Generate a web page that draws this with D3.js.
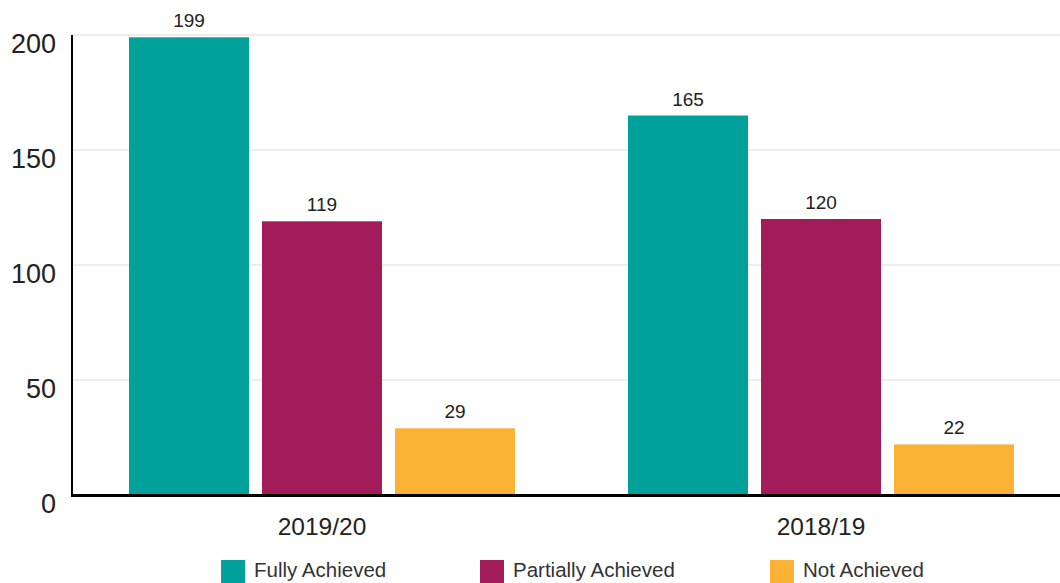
<!DOCTYPE html>
<html><head><meta charset="utf-8">
<script src="https://cdn.jsdelivr.net/npm/d3@7"></script>
<style>body{margin:0;background:#fff}svg{display:block;font-family:"Liberation Sans",Arial,sans-serif}</style>
</head><body><svg id="c" width="1060" height="583"></svg>
<script>
const categories = ["2019/20", "2018/19"];
const seriesNames = ["Fully Achieved", "Partially Achieved", "Not Achieved"];
const fullyAchieved = [199, 165];
const partiallyAchieved = [119, 120];
const notAchieved = [29, 22];
const yTicks = [0, 50, 100, 150, 200];
const colors = ["#00A19A", "#A21C5A", "#F9B233"];

const seriesValues = [fullyAchieved, partiallyAchieved, notAchieved];
const svg = d3.select("#c");
const x0 = d3.scaleBand().domain(categories).range([72, 1071]).paddingInner(113/499).paddingOuter(57/499);
const x1 = d3.scaleBand().domain(seriesNames).range([0, x0.bandwidth()]).paddingInner(13/133).paddingOuter(0);
const y = d3.scaleLinear().domain([0, 200]).range([495, 35]);

// grid
svg.append("g").selectAll("line").data(yTicks.filter(d => d > 0)).join("line")
  .attr("x1", 72).attr("x2", 1060).attr("y1", d => y(d)).attr("y2", d => y(d))
  .attr("stroke", "#dcdcdc").attr("stroke-width", 1);

// y labels
svg.append("g").selectAll("text").data(yTicks).join("text")
  .attr("x", 56).attr("y", d => y(d) + 18)
  .attr("text-anchor", "end").attr("font-size", 27).attr("fill", "#222").text(d => d);

// bars
const groups = svg.append("g").selectAll("g").data(categories).join("g")
  .attr("transform", d => `translate(${x0(d)},0)`);
groups.each(function(cat, ci) {
  const g = d3.select(this);
  seriesNames.forEach((s, si) => {
    const v = seriesValues[si][ci];
    g.append("rect").attr("x", x1(s)).attr("width", x1.bandwidth())
      .attr("y", y(v)).attr("height", y(0) - y(v)).attr("fill", colors[si]);
    g.append("text").attr("x", x1(s) + x1.bandwidth()/2).attr("y", y(v) - 10)
      .attr("text-anchor", "middle").attr("font-size", 19).attr("fill", "#222").text(v);
  });
});

// axes lines
svg.append("line").attr("x1", 72).attr("x2", 72).attr("y1", 35).attr("y2", 496).attr("stroke", "#000").attr("stroke-width", 2);
svg.append("line").attr("x1", 71).attr("x2", 1060).attr("y1", y(0) + 0.5).attr("y2", y(0) + 0.5).attr("stroke", "#000").attr("stroke-width", 3);

// x labels
svg.append("g").selectAll("text").data(categories).join("text")
  .attr("x", d => x0(d) + x0.bandwidth()/2).attr("y", 535)
  .attr("text-anchor", "middle").attr("font-size", 24.5).attr("fill", "#222").text(d => d);

// legend
const legX = [221, 480, 770];
const leg = svg.append("g").selectAll("g").data(seriesNames).join("g")
  .attr("transform", (d, i) => `translate(${legX[i]},560)`);
leg.append("rect").attr("width", 24).attr("height", 24).attr("fill", (d, i) => colors[i]);
leg.append("text").attr("x", 33).attr("y", 17).attr("font-size", 20.5).attr("fill", "#333").text(d => d);
</script></body></html>
